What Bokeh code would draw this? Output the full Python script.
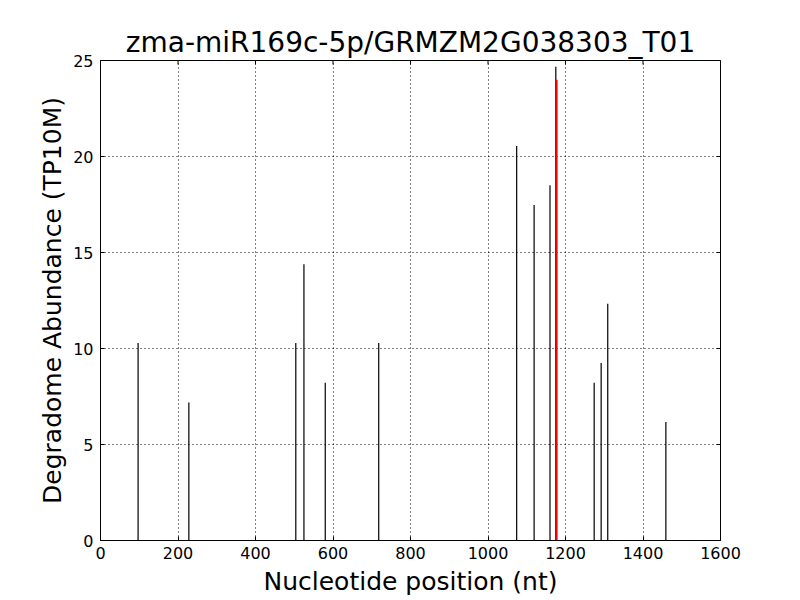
from bokeh.plotting import figure
from bokeh.models import Range1d, FixedTicker
from bokeh.embed import file_html
from bokeh.resources import INLINE

# Degradome read positions (nt) and abundances (TP10M)
positions = [97, 228, 504, 525, 580, 718, 1074, 1119, 1160, 1175, 1274, 1292, 1309, 1459]
abundance = [10.28, 7.19, 10.28, 14.39, 8.22, 10.28, 20.55, 17.47, 18.50, 24.67, 8.22, 9.25, 12.33, 6.17]
# Predicted cleavage site
site_pos = [1177]
site_val = [24.0]

x_ticks = [0, 200, 400, 600, 800, 1000, 1200, 1400, 1600]
y_ticks = [0, 5, 10, 15, 20, 25]

FONT = "DejaVu Sans"

p = figure(width=784, height=592, output_backend="svg", toolbar_location=None,
           x_range=Range1d(0, 1600), y_range=Range1d(0, 25),
           min_border_left=100, min_border_right=64, min_border_top=60, min_border_bottom=52,
           title="zma-miR169c-5p/GRMZM2G038303_T01")
p.frame_width = 620
p.frame_height = 480

p.title.text_font = FONT
p.title.text_font_size = "28px"
p.title.text_font_style = "normal"
p.title.align = "center"
p.title.text_color = "black"
p.title.standoff = 4

p.outline_line_color = "black"
p.outline_line_width = 1
p.background_fill_color = "white"
p.border_fill_color = "white"

for ax in (p.xaxis[0], p.yaxis[0]):
    ax.major_tick_in = 4
    ax.major_tick_out = 0
    ax.minor_tick_line_color = None
    ax.axis_line_color = "black"
    ax.major_tick_line_color = "black"
    ax.major_label_text_font = FONT
    ax.major_label_text_font_size = "16px"
    ax.major_label_text_color = "black"
    ax.axis_label_text_font = FONT
    ax.axis_label_text_font_size = "25px"
    ax.axis_label_text_font_style = "normal"
    ax.axis_label_text_color = "black"

p.xaxis[0].ticker = FixedTicker(ticks=x_ticks)
p.yaxis[0].ticker = FixedTicker(ticks=y_ticks)
p.xaxis[0].axis_label = "Nucleotide position (nt)"
p.yaxis[0].axis_label = "Degradome Abundance (TP10M)"
p.xaxis[0].major_label_standoff = 6
p.xaxis[0].axis_label_standoff = 5
p.yaxis[0].major_label_standoff = 7
p.yaxis[0].axis_label_standoff = 3

p.xgrid.grid_line_color = "black"
p.ygrid.grid_line_color = "black"
p.xgrid.grid_line_dash = "1 3"
p.ygrid.grid_line_dash = "1 3"
p.xgrid.grid_line_width = 1
p.ygrid.grid_line_width = 1
p.xgrid.ticker = FixedTicker(ticks=x_ticks)
p.ygrid.ticker = FixedTicker(ticks=y_ticks)

# inward ticks on the top and right edges (clipped half-dashes at the frame edge)
p.scatter(x=x_ticks, y=[y_ticks[-1]] * len(x_ticks), marker="dash", angle=1.5708,
          size=8, line_color="black", line_width=1)
p.scatter(x=[x_ticks[-1]] * len(y_ticks), y=y_ticks, marker="dash",
          size=8, line_color="black", line_width=1)

zeros = [0] * len(positions)
p.segment(x0=positions, y0=zeros, x1=positions, y1=abundance, line_color="black", line_width=1.2)
p.segment(x0=site_pos, y0=[0], x1=site_pos, y1=site_val, line_color="red", line_width=2)

open("out.html", "w").write(file_html(p, INLINE))
